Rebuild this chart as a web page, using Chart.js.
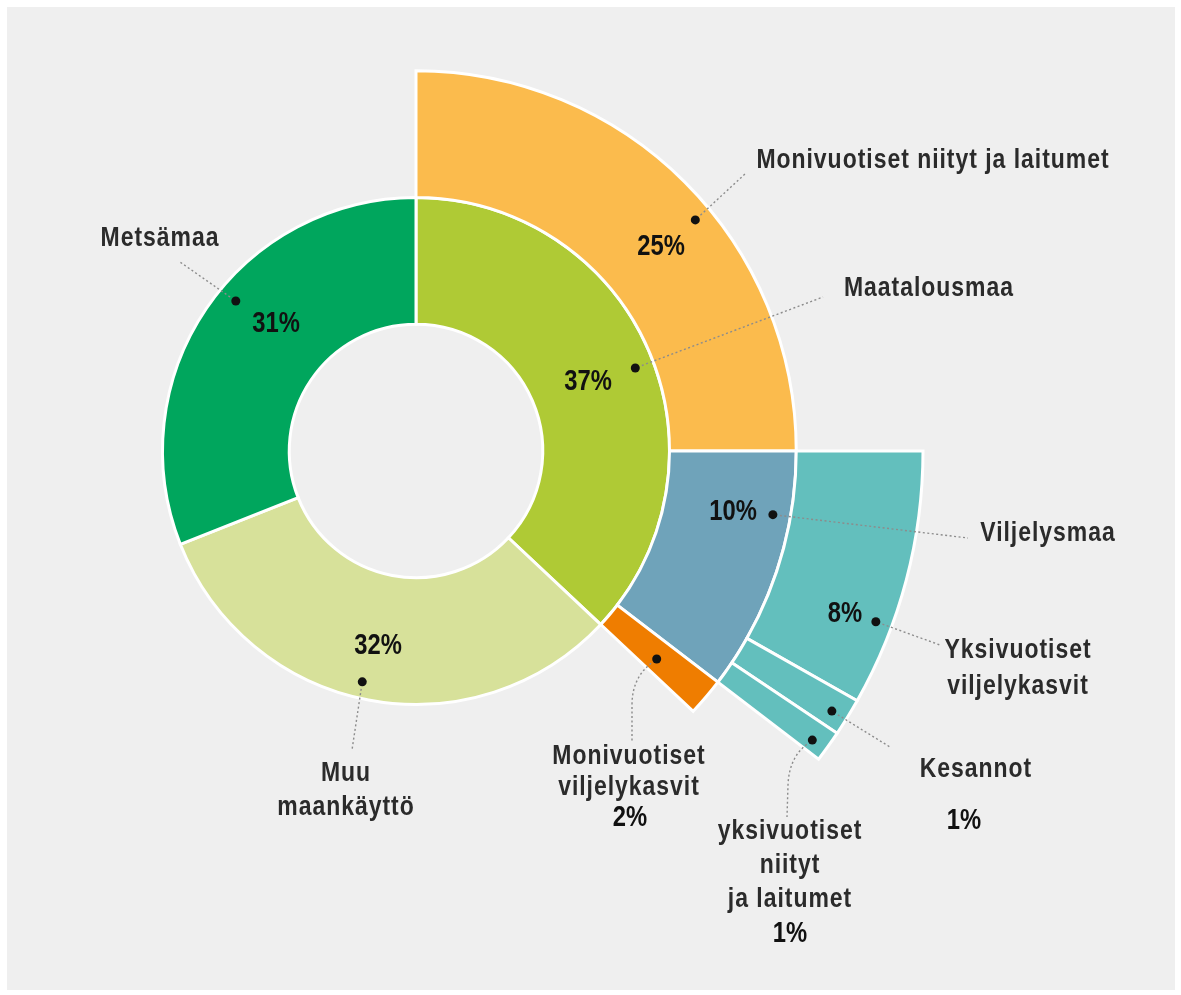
<!DOCTYPE html>
<html>
<head>
<meta charset="utf-8">
<title>Maankäyttö</title>
<script src="https://cdn.jsdelivr.net/npm/chart.js@4.4.1/dist/chart.umd.min.js"></script>
<style>
  html, body { margin: 0; padding: 0; background: #fff; overflow: hidden; }
  #wrap { width: 1181px; height: 995px; }
</style>
</head>
<body>
<div id="wrap"><canvas id="landChart" width="1181" height="995"></canvas></div>
<script>
// Inner ring: total land use (%)
const mainCategories = ['Maatalousmaa', 'Muu maankäyttö', 'Metsämaa'];
const mainValues = [37, 32, 31];

// Middle ring: split of Maatalousmaa
const farmCategories = ['Monivuotiset niityt ja laitumet', 'Viljelysmaa', 'Monivuotiset viljelykasvit'];
const farmValues = [25, 10.4, 1.6];

// Outer ring: split of Viljelysmaa
const arableCategories = ['Yksivuotiset viljelykasvit', 'Kesannot', 'yksivuotiset niityt ja laitumet'];
const arableValues = [8.2, 1.2, 1.0];

const mainColors = ['#afca35', '#d7e19a', '#00a65d'];
const farmColors = ['#fbbb4d', '#6fa3ba', '#ef7d00'];
const arableColor = '#63bfbd';
const none = 'rgba(0,0,0,0)';

const sum = arr => arr.reduce((a, b) => a + b, 0);

// Label placement (page pixels); dot position given as [angle fraction, radius fraction] inside its arc
const callouts = [
  { ds: 2, i: 2, at: [0.55, 0.85], breaks: null, text: [160, 238], pct: [276, 324], lead: [[180, 262]] },
  { ds: 2, i: 0, at: [0.52, 0.85], breaks: null, text: [929, 288], pct: [588, 382], lead: [[823, 297]] },
  { ds: 2, i: 1, at: [0.52, 0.87], breaks: [1, 1], lh: 34, text: [346, 773], pct: [378, 646], lead: [[352, 750]] },
  { ds: 1, i: 0, at: [0.56, 0.86], breaks: null, text: [933, 160], pct: [661, 247], lead: [[745, 174]] },
  { ds: 1, i: 1, at: [0.27, 0.86], breaks: null, text: [1048, 533], pct: [733, 512], lead: [[968, 538]] },
  { ds: 1, i: 2, at: [0.59, 0.51], breaks: [1, 1], lh: 31, text: [629, 756], pct: [630, 818], ctrl: [632, 678], lead: [[632, 705], [632, 743]] },
  { ds: 0, i: 1, at: [0.69, 0.87], breaks: [1, 1], lh: 36, text: [1018, 650], pct: [845, 614], lead: [[940, 645]] },
  { ds: 0, i: 2, at: [0.58, 0.87], breaks: null, text: [976, 769], pct: [964, 821], lead: [[890, 747]] },
  { ds: 0, i: 3, at: [0.63, 0.87], breaks: [1, 1, 2], lh: 34, text: [790, 831], pct: [790, 934], ctrl: [789, 758], lead: [[788, 785], [787, 817]] }
];

// narrow bold look: Liberation Sans squeezed horizontally
const labelFont = '700 28px "Liberation Sans", Arial, sans-serif';
const pctFont = '700 29px "Liberation Sans", Arial, sans-serif';
const squeeze = 0.82;

function splitLines(name, breaks) {
  if (!breaks) return [name];
  const words = name.split(' ');
  const lines = [];
  let k = 0;
  breaks.forEach(n => { lines.push(words.slice(k, k + n).join(' ')); k += n; });
  return lines;
}

function narrowText(ctx, text, x, y) {
  ctx.save();
  ctx.translate(x, y);
  ctx.scale(squeeze, 1);
  ctx.fillText(text, 0, 0);
  ctx.restore();
}

const calloutPlugin = {
  id: 'callouts',
  beforeDraw(chart) {
    const ctx = chart.ctx;
    ctx.save();
    ctx.fillStyle = '#ffffff';
    ctx.fillRect(0, 0, chart.width, chart.height);
    ctx.fillStyle = '#efefef';
    ctx.fillRect(7, 7, chart.width - 13, chart.height - 12);
    ctx.restore();
  },
  afterDatasetsDraw(chart) {
    const ctx = chart.ctx;
    ctx.save();
    callouts.forEach(c => {
      const ds = chart.data.datasets[c.ds];
      const arc = chart.getDatasetMeta(c.ds).data[c.i];
      const p = arc.getProps(['x', 'y', 'startAngle', 'endAngle', 'innerRadius', 'outerRadius'], true);
      const a = p.startAngle + c.at[0] * (p.endAngle - p.startAngle);
      const r = p.innerRadius + c.at[1] * (p.outerRadius - p.innerRadius);
      const px = p.x + Math.cos(a) * r;
      const py = p.y + Math.sin(a) * r;

      // dotted leader
      const first = c.ctrl || c.lead[0];
      const len = Math.hypot(first[0] - px, first[1] - py);
      const sx = px + (first[0] - px) / len * 7;
      const sy = py + (first[1] - py) / len * 7;
      ctx.beginPath();
      ctx.setLineDash([2, 2.5]);
      ctx.strokeStyle = '#8c8c8c';
      ctx.lineWidth = 1.4;
      ctx.moveTo(sx, sy);
      let pts = c.lead;
      if (c.ctrl) {
        ctx.quadraticCurveTo(c.ctrl[0], c.ctrl[1], pts[0][0], pts[0][1]);
        pts = pts.slice(1);
      }
      pts.forEach(q => ctx.lineTo(q[0], q[1]));
      ctx.stroke();
      ctx.setLineDash([]);

      // dot
      ctx.beginPath();
      ctx.fillStyle = '#111';
      ctx.arc(px, py, 4.5, 0, Math.PI * 2);
      ctx.fill();

      // category label
      const lines = splitLines(ds.labels[c.i], c.breaks);
      ctx.font = labelFont;
      ctx.letterSpacing = '1.2px';
      ctx.fillStyle = '#2b2b2b';
      ctx.textAlign = 'center';
      ctx.textBaseline = 'middle';
      lines.forEach((t, k) => narrowText(ctx, t, c.text[0], c.text[1] + k * (c.lh || 0)));

      // percentage
      ctx.font = pctFont;
      ctx.letterSpacing = '0px';
      ctx.fillStyle = '#111';
      narrowText(ctx, Math.round(ds.data[c.i]) + '%', c.pct[0], c.pct[1]);
    });
    ctx.restore();
  }
};

const ctx = document.getElementById('landChart').getContext('2d');
new Chart(ctx, {
  type: 'doughnut',
  data: {
    datasets: [
      {
        labels: [null, ...arableCategories, null],
        data: [farmValues[0], ...arableValues, 100 - farmValues[0] - sum(arableValues)],
        backgroundColor: [none, arableColor, arableColor, arableColor, none],
        borderWidth: [0, 3, 3, 3, 0]
      },
      {
        labels: [...farmCategories, null],
        data: [...farmValues, 100 - sum(farmValues)],
        backgroundColor: [...farmColors, none],
        borderWidth: [3, 3, 3, 0]
      },
      {
        labels: mainCategories,
        data: mainValues,
        backgroundColor: mainColors,
        borderWidth: 3
      }
    ]
  },
  options: {
    responsive: false,
    animation: false,
    events: [],
    radius: 507,
    cutout: '25%',
    layout: { padding: { left: 0, right: 349, top: 0, bottom: 93 } },
    elements: {
      arc: { borderColor: '#ffffff', borderJoinStyle: 'miter' }
    },
    datasets: { doughnut: { clip: false } },
    plugins: {
      legend: { display: false },
      tooltip: { enabled: false }
    }
  },
  plugins: [calloutPlugin]
});
</script>
</body>
</html>
